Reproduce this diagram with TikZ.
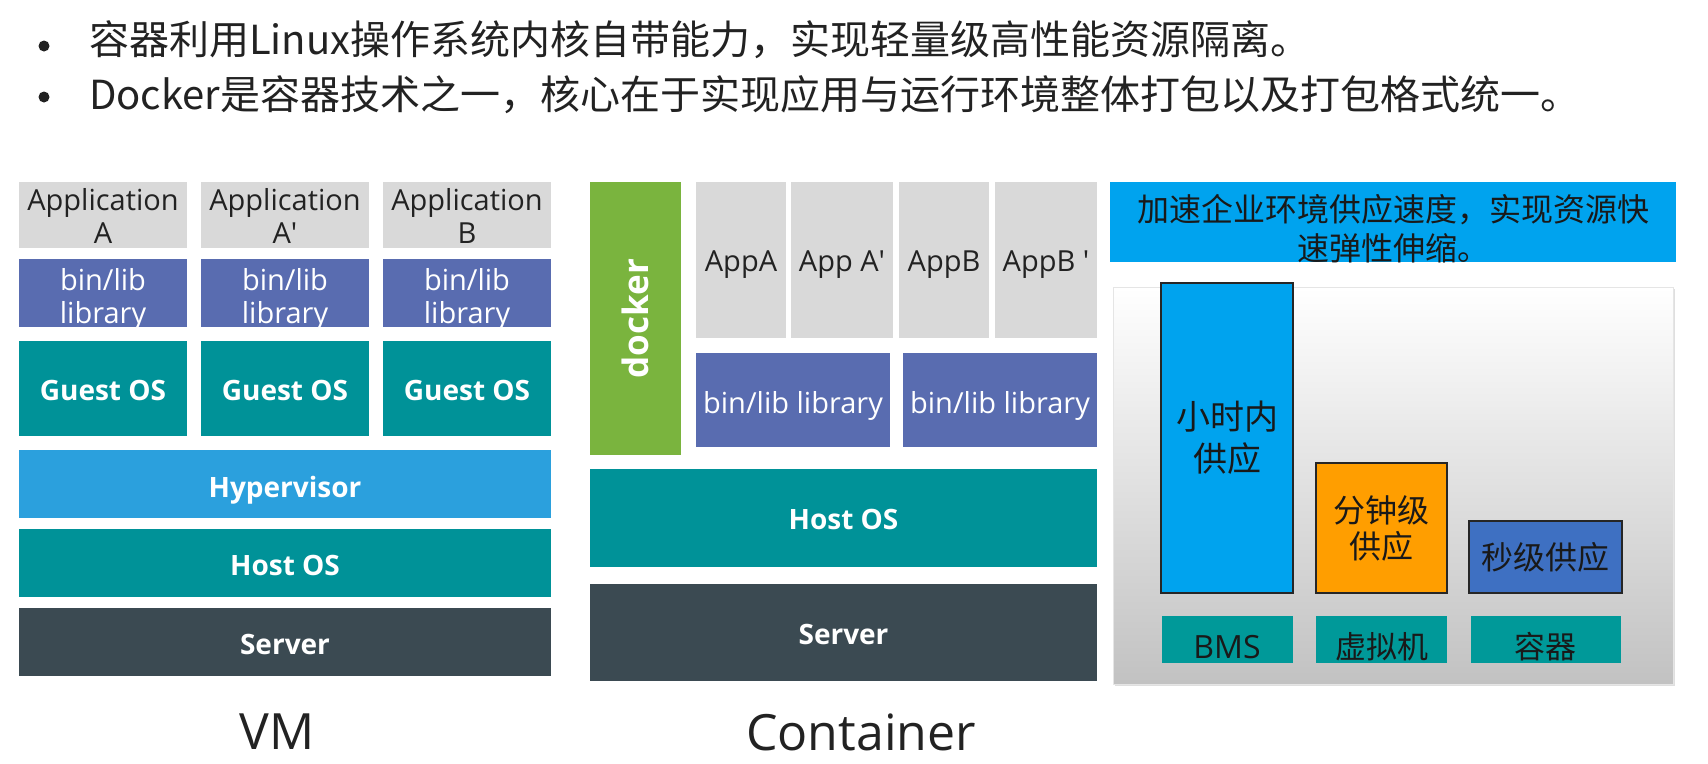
\documentclass[tikz,border=0pt]{standalone}
\usepackage{fontspec}
\setmainfont{Open Sans}
\newfontfamily\cjk{Noto Sans CJK SC}
\definecolor{appgray}{RGB}{217,217,217}
\definecolor{libblue}{RGB}{89,108,176}
\definecolor{osteal}{RGB}{0,146,152}
\definecolor{hyperblue}{RGB}{43,160,221}
\definecolor{serverslate}{RGB}{59,74,82}
\definecolor{dockergreen}{RGB}{122,180,62}
\definecolor{skyblue}{RGB}{0,163,238}
\definecolor{minorange}{RGB}{255,158,0}
\definecolor{secblue}{RGB}{62,112,194}
\definecolor{tagteal}{RGB}{0,153,153}
\definecolor{inkgray}{RGB}{34,34,34}
\usetikzlibrary{
  positioning,
  shadows,
}
% move a label down inside its box without changing the box
\newcommand{\nudge}[2]{\raisebox{-#1}[\height][\depth]{#2}}
\newcommand{\nudgelines}[2]{\raisebox{-#1}[\height][\depth]{\begin{tabular}{@{}c@{}}#2\end{tabular}}}
\tikzset{
  layer/.style={rectangle,inner sep=0pt,outer sep=0pt,align=center},
  appbox/.style={layer,fill=appgray,text=inkgray,font=\fontsize{29}{33}\selectfont},
  libbox/.style={layer,fill=libblue,text=white,font=\fontsize{29}{33}\selectfont},
  osbox/.style={layer,fill=osteal,text=white,font=\bfseries\fontsize{28}{34}\selectfont},
  widebox/.style={layer,text=white,font=\bfseries\fontsize{28}{34}\selectfont},
  caption/.style={inner sep=0pt,text=inkgray,font=\fontsize{50}{60}\selectfont},
  bullettext/.style={anchor=base west,inner sep=0pt,text=inkgray,font=\cjk\fontsize{40}{48}\selectfont},
  bulletdot/.style={circle,fill=inkgray,minimum size=11,inner sep=0pt},
  bar/.style={layer,draw=black!85,line width=1.2pt,text=black!90,font=\cjk\fontsize{32}{36}\selectfont},
  tag/.style={layer,fill=tagteal,minimum height=47,text=black!90,font=\cjk\fontsize{31}{36}\selectfont},
}

\begin{document}
\begin{tikzpicture}[x=1pt,y=-1pt]
    \useasboundingbox (0,0) rectangle (1708,763);

    % bullets
    \node[bulletdot] (dot1) at (44,46) {};
    \node[bulletdot] (dot2) at (44,97) {};
    \node[bullettext] (line1) at (89,54) {容器利用Linux操作系统内核自带能力，实现轻量级高性能资源隔离。};
    \node[bullettext] (line2) at (89,109) {Docker是容器技术之一，核心在于实现应用与运行环境整体打包以及打包格式统一。};

    % VM stack
    \node[appbox,minimum width=168,minimum height=66,anchor=north west] (appA) at (19,182) {\nudgelines{5pt}{Application\\A}};
    \node[appbox,minimum width=168,minimum height=66] (appA2) [right=14pt of appA] {\nudgelines{5pt}{Application\\A\textquotesingle}};
    \node[appbox,minimum width=168,minimum height=66] (appB) [right=14pt of appA2] {\nudgelines{5pt}{Application\\B}};
    \node[libbox,minimum width=168,minimum height=68] (libA) [below=11pt of appA] {\nudgelines{7pt}{bin/lib\\library}};
    \node[libbox,minimum width=168,minimum height=68] (libA2) [below=11pt of appA2] {\nudgelines{7pt}{bin/lib\\library}};
    \node[libbox,minimum width=168,minimum height=68] (libB) [below=11pt of appB] {\nudgelines{7pt}{bin/lib\\library}};
    \node[osbox,minimum width=168,minimum height=95] (guestA) [below=14pt of libA] {\nudge{2pt}{Guest OS}};
    \node[osbox,minimum width=168,minimum height=95] (guestA2) [below=14pt of libA2] {\nudge{2pt}{Guest OS}};
    \node[osbox,minimum width=168,minimum height=95] (guestB) [below=14pt of libB] {\nudge{2pt}{Guest OS}};
    \node[widebox,fill=hyperblue,minimum width=532,minimum height=68] (hyper) [below=14pt of guestA2] {\nudge{6pt}{Hypervisor}};
    \node[widebox,fill=osteal,minimum width=532,minimum height=68] (hostvm) [below=11pt of hyper] {\nudge{2pt}{Host OS}};
    \node[widebox,fill=serverslate,minimum width=532,minimum height=68] (servervm) [below=11pt of hostvm] {\nudge{2pt}{Server}};
    \node[caption] (vmcap) at (277,732) {VM};

    % container stack
    \node[widebox,fill=dockergreen,rotate=90,minimum width=273,minimum height=91,font=\bfseries\fontsize{35}{40}\selectfont] (docker) at (635.5,318.5) {docker};
    \node[appbox,minimum width=90,minimum height=156,anchor=north west] (appa) at (696,182) {\nudge{5pt}{AppA}};
    \node[appbox,minimum width=102,minimum height=156] (appa2) [right=5pt of appa] {\nudge{5pt}{App A\textquotesingle}};
    \node[appbox,minimum width=90,minimum height=156] (appb) [right=6pt of appa2] {\nudge{5pt}{AppB}};
    \node[appbox,minimum width=102,minimum height=156] (appb2) [right=6pt of appb] {\nudge{5pt}{AppB \textquotesingle}};
    \node[libbox,minimum width=194,minimum height=94,anchor=north west] (clibA) at (696,353) {\nudge{6pt}{bin/lib library}};
    \node[libbox,minimum width=194,minimum height=94] (clibB) [right=13pt of clibA] {\nudge{6pt}{bin/lib library}};
    \node[widebox,fill=osteal,minimum width=507,minimum height=98,anchor=north west] (hostct) at (590,469) {\nudge{1pt}{Host OS}};
    \node[widebox,fill=serverslate,minimum width=507,minimum height=97] (serverct) [below=17pt of hostct] {\nudge{2pt}{Server}};
    \node[caption] (ctcap) at (861,732) {Container};

    % provisioning speed
    \node[layer,fill=skyblue,minimum width=566,minimum height=80,text=black!90,font=\cjk\fontsize{32}{38}\selectfont] (speed) at (1393,222)
        {\nudgelines{11pt}{加速企业环境供应速度，实现资源快\\速弹性伸缩。}};
    \node[layer,minimum width=560,minimum height=397,anchor=north west,top color=white,bottom color=black!24,draw=black!10,
          drop shadow={opacity=0.25,shadow xshift=2pt,shadow yshift=-2pt}] (chart) at (1113,287) {};
    \node[bar,fill=skyblue,minimum width=132,minimum height=310,anchor=south west,font=\cjk\fontsize{34}{38}\selectfont] (hourbar) at (1161,593) {小时内\\[4pt]供应};
    \node[bar,fill=minorange,minimum width=131,minimum height=130,anchor=south west] (minbar) at (1316,593) {分钟级\\供应};
    \node[bar,fill=secblue,minimum width=153,minimum height=72,anchor=south west] (secbar) at (1469,593) {秒级供应};
    \node[tag,minimum width=131,font=\fontsize{32}{36}\selectfont] (bmstag) [below=23pt of hourbar] {\nudge{8pt}{BMS}};
    \node[tag,minimum width=131] (vmtag) [below=23pt of minbar] {\nudge{7pt}{虚拟机}};
    \node[tag,minimum width=150] (cttag) [below=23pt of secbar] {\nudge{7pt}{容器}};

\end{tikzpicture}
\end{document}
